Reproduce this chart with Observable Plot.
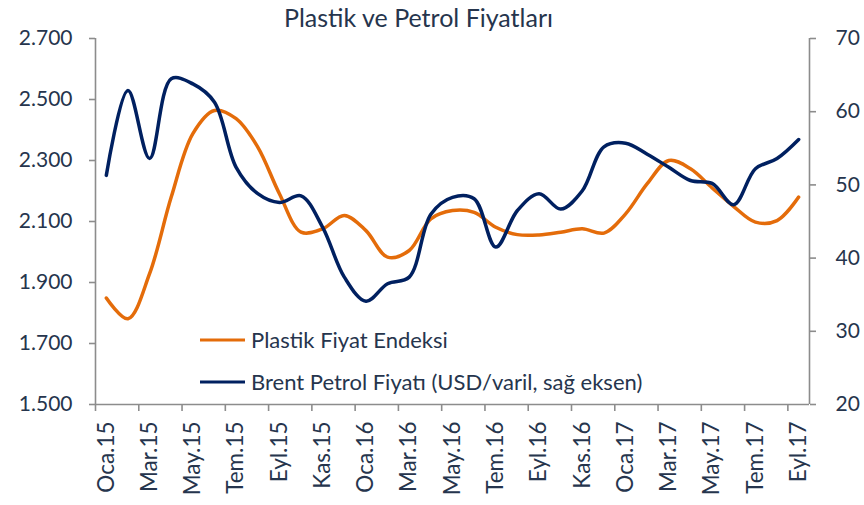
<!DOCTYPE html>
<html>
<head>
<meta charset="utf-8">
<script src="https://cdn.jsdelivr.net/npm/d3@7"></script>
<script src="https://cdn.jsdelivr.net/npm/@observablehq/plot@0.6"></script>
<style>
  html, body { margin: 0; padding: 0; background: #fff; }
</style>
</head>
<body>
<div id="chart"></div>
<script>
const title = "Plastik ve Petrol Fiyatları";
const months = [
  "Oca.15","Şub.15","Mar.15","Nis.15","May.15","Haz.15","Tem.15","Ağu.15","Eyl.15","Eki.15","Kas.15","Ara.15",
  "Oca.16","Şub.16","Mar.16","Nis.16","May.16","Haz.16","Tem.16","Ağu.16","Eyl.16","Eki.16","Kas.16","Ara.16",
  "Oca.17","Şub.17","Mar.17","Nis.17","May.17","Haz.17","Tem.17","Ağu.17","Eyl.17"
];
const plastik = [1849,1781,1929,2180,2388,2464,2437,2344,2191,2065,2076,2120,2070,1983,2005,2109,2136,2130,2081,2057,2056,2065,2076,2062,2125,2224,2300,2273,2210,2149,2098,2103,2180];
const brent = [51.3,62.9,53.6,64.5,63.8,61.3,52.4,48.8,47.6,48.5,44.2,37.4,34.1,36.5,37.4,46.0,48.3,48.1,41.5,46.5,48.8,46.7,49.2,55.2,55.7,54.2,52.4,50.6,50.2,47.3,52.2,53.6,56.2];
const leftTicks = [1500,1700,1900,2100,2300,2500,2700];
const rightTicks = [20,30,40,50,60,70];
const seriesNames = ["Plastik Fiyat Endeksi", "Brent Petrol Fiyatı (USD/varil, sağ eksen)"];

const orange = "#E46C0A";
const navy = "#002060";
const gray = "#8C8C8C";
const ink = "#26354D";

// map right-axis (Brent) values onto the left-axis scale
const toLeft = v => 1500 + (v - 20) * 24;
const fromLeft = d => (d - 1500) / 24 + 20;

const rows = months.map((m, i) => ({i, month: m, plastik: plastik[i], brent: brent[i]}));
const boundaries = d3.range(-0.5, 32, 2);
const labelIdx = d3.range(0, 33, 2);

const fmtLeft = d => d3.format(",")(d).replace(",", ".");

const chart = Plot.plot({
  width: 864,
  height: 505,
  marginTop: 38,
  marginBottom: 101,
  marginLeft: 95,
  marginRight: 55,
  style: {fontFamily: "Lato, 'Open Sans', sans-serif", fontSize: "21px", color: ink, background: "#fff"},
  x: {domain: [-0.5, 32.5], label: null},
  y: {domain: [1500, 2700], label: null},
  marks: [
    Plot.ruleY([1500], {stroke: gray, strokeWidth: 1.6}),
    Plot.ruleX([-0.5], {stroke: gray, strokeWidth: 1.6}),
    Plot.ruleX([32.5], {stroke: gray, strokeWidth: 1.6}),
    Plot.axisY(leftTicks, {anchor: "left", tickSize: 6, tickPadding: 17, stroke: gray, strokeWidth: 1.6, fill: ink, fontSize: 21, tickFormat: fmtLeft, label: null}),
    Plot.axisY(rightTicks.map(toLeft), {anchor: "right", tickSize: 6, tickPadding: 20, stroke: gray, strokeWidth: 1.6, fill: ink, fontSize: 21, tickFormat: d => String(Math.round(fromLeft(d))), label: null}),
    Plot.axisX(boundaries, {anchor: "bottom", tickSize: 7, stroke: gray, strokeWidth: 1.6, tickFormat: () => "", label: null}),
    Plot.axisX(labelIdx, {anchor: "bottom", tickSize: 0, tickPadding: 17, tickRotate: -90, fill: ink, fontSize: 22.5, tickFormat: i => months[i], label: null}),
    Plot.line(rows, {x: "i", y: "plastik", stroke: orange, strokeWidth: 3.5, curve: "catmull-rom"}),
    Plot.line(rows, {x: "i", y: d => toLeft(d.brent), stroke: navy, strokeWidth: 3.5, curve: "catmull-rom"}),
    Plot.text([title], {frameAnchor: "top", dx: -34, dy: -20, fontSize: 25, fill: ink, lineAnchor: "middle"})
  ]
});

// legend inside the plot area
const svg = d3.select(chart);
const lg = svg.append("g")
  .attr("font-family", "Lato, 'Open Sans', sans-serif")
  .attr("font-size", 22)
  .attr("text-anchor", "start");
[orange, navy].forEach((c, k) => {
  const y = 340 + 42 * k;
  lg.append("line").attr("x1", 200).attr("x2", 245).attr("y1", y).attr("y2", y)
    .attr("stroke", c).attr("stroke-width", 3);
  lg.append("text").attr("x", 251).attr("y", y).attr("dy", "0.35em")
    .attr("text-anchor", "start")
    .attr("fill", ink).text(seriesNames[k]);
});

document.getElementById("chart").appendChild(chart);
</script>
</body>
</html>
